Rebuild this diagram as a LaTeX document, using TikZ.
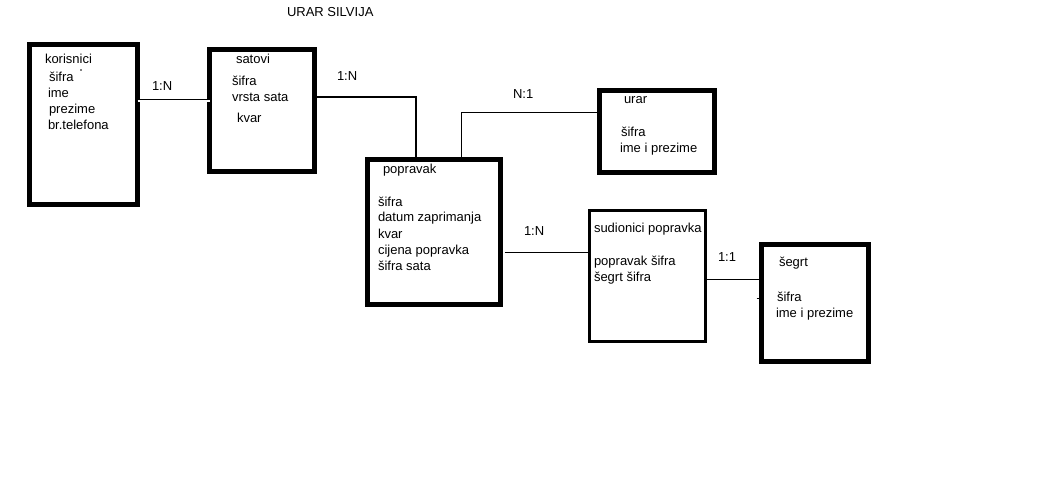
\documentclass[tikz,border=0pt]{standalone}
\usepackage{fontspec}
\setmainfont{Liberation Sans}
\begin{document}
\begin{tikzpicture}[x=1pt,y=-1pt,
  ebox/.style={draw=black,line width=5pt,inner sep=0pt,outer sep=0pt,fill=none},
  txt/.style={anchor=base west,inner sep=0pt,outer sep=0pt,font=\fontsize{13}{15}\selectfont},
  conn/.style={draw=black,line width=1pt}]
\useasboundingbox[fill=white] (0,0) rectangle (1046,481);
% title
\node[txt] (title) at (287,17) {URAR SILVIJA};
% boxes
\node[ebox,minimum width=108pt,minimum height=160pt] (kor) at (83.5,124.5) {};
\node[ebox,minimum width=105pt,minimum height=122pt] (sat) at (262,110.5) {};
\node[ebox,minimum width=133pt,minimum height=145pt] (pop) at (434,232) {};
\node[ebox,minimum width=115pt,minimum height=82pt] (urar) at (657,131.5) {};
\node[ebox,line width=3pt,minimum width=116pt,minimum height=131pt] (sud) at (647.5,276) {};
\node[ebox,minimum width=107pt,minimum height=117pt] (seg) at (815,303) {};
% korisnici texts
\node[txt] (kor0) at (45,64) {korisnici};
\node[txt] (kor1) at (49,82) {šifra};
\node[txt] (kor2) at (48,98) {ime};
\node[txt] (kor3) at (49,114) {prezime};
\node[txt] (kor4) at (48,130) {br.telefona};
\fill (81,70) circle (0.8pt);
% satovi texts
\node[txt] (sat0) at (236,64) {satovi};
\node[txt] (sat1) at (232,86) {šifra};
\node[txt] (sat2) at (232,102) {vrsta sata};
\node[txt] (sat3) at (237,123) {kvar};
% popravak texts
\node[txt] (pop0) at (383,174) {popravak};
\node[txt] (pop1) at (378,206) {šifra};
\node[txt] (pop2) at (378,222) {datum zaprimanja};
\node[txt] (pop3) at (378,238) {kvar};
\node[txt] (pop4) at (378,254) {cijena popravka};
\node[txt] (pop5) at (378,270) {šifra sata};
% urar texts
\node[txt] (urar0) at (624,104) {urar};
\node[txt] (urar1) at (621,137) {šifra};
\node[txt] (urar2) at (620,153) {ime i prezime};
% sudionici texts
\node[txt] (sud0) at (594,233) {sudionici popravka};
\node[txt] (sud1) at (594,265) {popravak šifra};
\node[txt] (sud2) at (594,281) {šegrt šifra};
% segrt texts
\node[txt] (seg0) at (779,266) {šegrt};
\node[txt] (seg1) at (777,301) {šifra};
\node[txt] (seg2) at (776,317) {ime i prezime};
% cardinality labels
\node[txt] (l1) at (152,91) {1:N};
\node[txt] (l2) at (337,81) {1:N};
\node[txt] (l3) at (513,99) {N:1};
\node[txt] (l4) at (524,235) {1:N};
\node[txt] (l5) at (718,261) {1:1};
% connectors
\coordinate (c0) at (0,101);
\coordinate (c1) at (416,97);
\coordinate (c2) at (461,112.5);
\coordinate (c3) at (0,252);
\coordinate (c4) at (0,279);
\draw[draw=black,line width=0.8pt,double=white,double distance=1.4pt] (kor.east |- c0) -- (sat.west |- c0);
\draw[conn,line width=2pt] (sat.east |- c1) -| (pop.north -| c1);
\draw[conn] (pop.north -| c2) |- (urar.west |- c2);
\draw[conn,shorten <=4pt] (pop.east |- c3) -- (sud.west |- c3);
\draw[conn] (sud.east |- c4) -- (seg.west |- c4);
\draw[conn] (756.5,298) -- (759,298);
\end{tikzpicture}
\end{document}
